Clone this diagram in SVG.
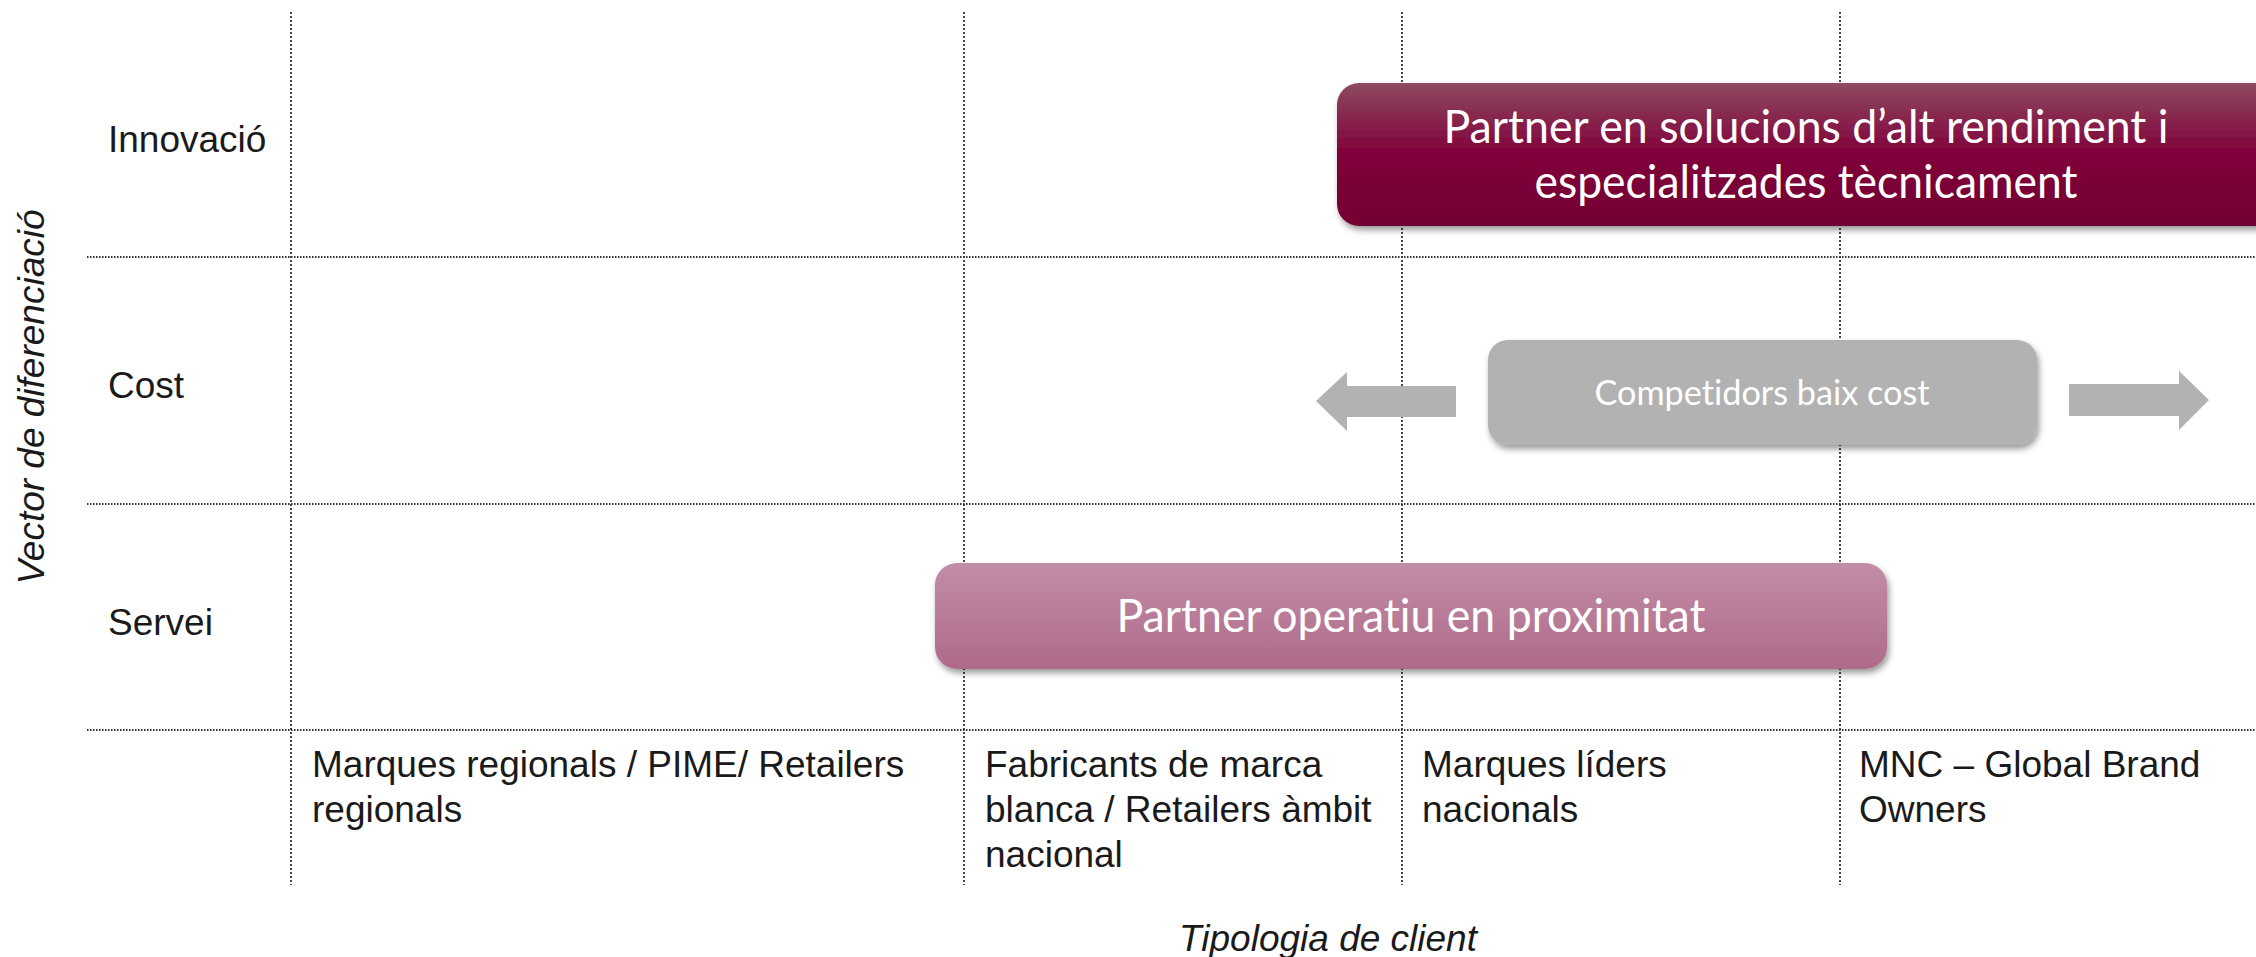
<svg xmlns="http://www.w3.org/2000/svg" width="2256" height="957" viewBox="0 0 2256 957">
  <defs>
    <linearGradient id="gInnov" x1="0" y1="0" x2="0" y2="1">
      <stop offset="0" stop-color="#8E4A60"/>
      <stop offset="0.5" stop-color="#80003A"/>
      <stop offset="1" stop-color="#730033"/>
    </linearGradient>
    <linearGradient id="gServ" x1="0" y1="0" x2="0" y2="1">
      <stop offset="0" stop-color="#C28DA7"/>
      <stop offset="1" stop-color="#AE6A89"/>
    </linearGradient>
    <filter id="shadow" x="-5%" y="-20%" width="112%" height="150%">
      <feDropShadow dx="2" dy="4" stdDeviation="3" flood-color="#000" flood-opacity="0.4"/>
    </filter>
    <style>
      .grid { stroke: #333333; stroke-width: 1.8; fill: none; }
      .h { stroke-dasharray: 1.5 1.5; }
      .v { stroke-dasharray: 2 2; }
      .lbl { font-family: "Liberation Sans", Arial, sans-serif; font-size: 37px; fill: #1a1a1a; }
      .axis { font-family: "Liberation Sans", Arial, sans-serif; font-size: 37px; font-style: italic; fill: #1a1a1a; }
      .box { font-family: Lato, "Open Sans", sans-serif; fill: #ffffff; text-anchor: middle; font-variant-ligatures: none; font-feature-settings: "liga" 0, "clig" 0; }
      .arrow { fill: #B2B2B2; }
    </style>
  </defs>
  <rect width="2256" height="957" fill="#ffffff"/>

  <g id="grid">
    <line class="grid h" x1="87" y1="257" x2="2256" y2="257"/>
    <line class="grid h" x1="87" y1="504" x2="2256" y2="504"/>
    <line class="grid h" x1="87" y1="730" x2="2256" y2="730"/>
    <line class="grid v" x1="291" y1="12" x2="291" y2="885"/>
    <line class="grid v" x1="964" y1="12" x2="964" y2="885"/>
    <line class="grid v" x1="1402" y1="12" x2="1402" y2="885"/>
    <line class="grid v" x1="1840" y1="12" x2="1840" y2="885"/>
  </g>

  <g id="row-labels">
    <text class="lbl" x="108" y="152">Innovació</text>
    <text class="lbl" x="108" y="398">Cost</text>
    <text class="lbl" x="108" y="635">Servei</text>
  </g>

  <g id="col-labels">
    <text class="lbl" x="312" y="777">Marques regionals / PIME/ Retailers</text>
    <text class="lbl" x="312" y="822">regionals</text>
    <text class="lbl" x="985" y="777">Fabricants de marca</text>
    <text class="lbl" x="985" y="822">blanca / Retailers àmbit</text>
    <text class="lbl" x="985" y="867">nacional</text>
    <text class="lbl" x="1422" y="777">Marques líders</text>
    <text class="lbl" x="1422" y="822">nacionals</text>
    <text class="lbl" x="1859" y="777">MNC – Global Brand</text>
    <text class="lbl" x="1859" y="822">Owners</text>
  </g>

  <g id="axis-titles">
    <text class="axis" x="1328" y="951" text-anchor="middle">Tipologia de client</text>
    <text class="axis" transform="translate(44,397) rotate(-90)" text-anchor="middle">Vector de diferenciació</text>
  </g>

  <g id="node-innovacio">
    <rect x="1337" y="83" width="980" height="143" rx="22" ry="22" fill="url(#gInnov)" filter="url(#shadow)"/>
    <text class="box" x="1806" y="143" font-size="47" textLength="725" lengthAdjust="spacingAndGlyphs">Partner en solucions d’alt rendiment i</text>
    <text class="box" x="1806" y="198" font-size="47" textLength="543" lengthAdjust="spacingAndGlyphs">especialitzades tècnicament</text>
  </g>

  <g id="node-cost">
    <rect x="1488" y="340" width="549" height="105" rx="20" ry="20" fill="#B2B2B2" filter="url(#shadow)"/>
    <text class="box" x="1762" y="405" font-size="34" fill="#F7F7F7" textLength="335" lengthAdjust="spacingAndGlyphs">Competidors baix cost</text>
  </g>

  <g id="node-servei">
    <rect x="935" y="563" width="952" height="106" rx="22" ry="22" fill="url(#gServ)" filter="url(#shadow)"/>
    <text class="box" x="1411" y="632" font-size="47" textLength="589" lengthAdjust="spacingAndGlyphs">Partner operatiu en proximitat</text>
  </g>

  <g id="connectors">
    <polygon class="arrow" points="1316,401 1347,372 1347,386 1456,386 1456,417 1347,417 1347,431"/>
    <polygon class="arrow" points="2209,400 2179,371 2179,384 2069,384 2069,416 2179,416 2179,430"/>
  </g>
</svg>
